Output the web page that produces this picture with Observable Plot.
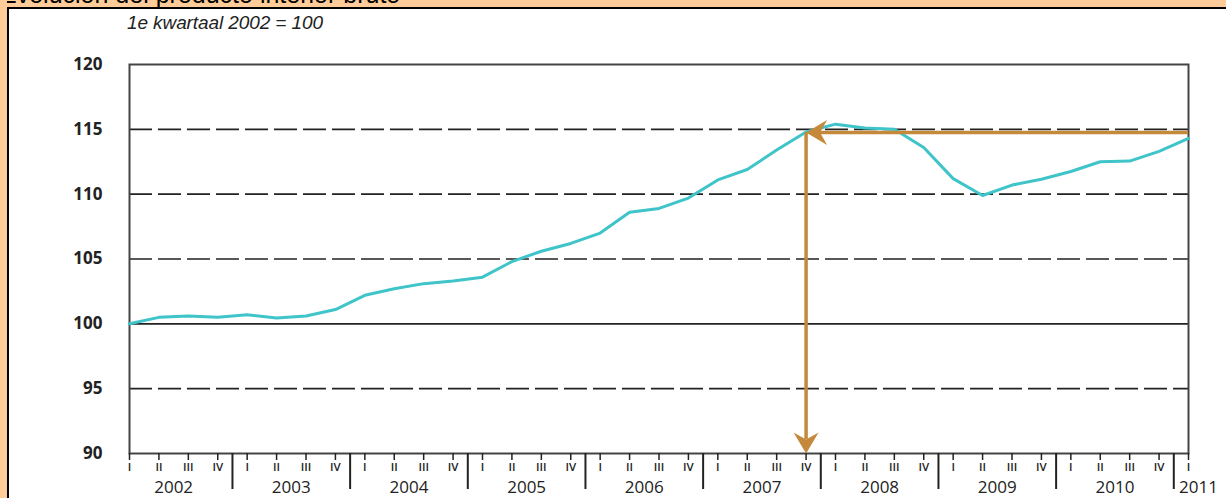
<!DOCTYPE html>
<html>
<head>
<meta charset="utf-8">
<script src="https://cdn.jsdelivr.net/npm/d3@7"></script>
<script src="https://cdn.jsdelivr.net/npm/@observablehq/plot@0.6"></script>
<style>
  html, body { margin: 0; padding: 0; width: 1226px; height: 498px; overflow: hidden; background: #fff; }
  #wrap { position: relative; width: 1226px; height: 498px; }
  #chart { position: absolute; left: 0; top: 0; }
  .orangeTop { position: absolute; left: 0; top: 0; width: 1226px; height: 7px; background: #FFCC99; z-index: 2; overflow: hidden; }
  .orangeLeft { position: absolute; left: 0; top: 0; width: 7px; height: 498px; background: #FFCC99; z-index: 2; }
  .lineTop { position: absolute; left: 7px; top: 7px; width: 1219px; height: 2px; background: #000; z-index: 3; }
  .lineLeft { position: absolute; left: 7px; top: 7px; width: 2px; height: 491px; background: #000; z-index: 3; }
  .title { position: absolute; left: 0px; top: -20px; font: 25px "Liberation Sans", Arial, sans-serif; color: #000; white-space: nowrap; }
  .subtitle { position: absolute; left: 127px; top: 12px; font: italic 19px "Liberation Sans", Arial, sans-serif; color: #222; letter-spacing: -0.1px; z-index: 3; }
</style>
</head>
<body>
<div id="wrap">
  <div class="orangeTop"><div class="title">Evolución del producto interior bruto</div></div>
  <div class="orangeLeft"></div>
  <div class="lineTop"></div>
  <div class="lineLeft"></div>
  <div class="subtitle">1e kwartaal 2002 = 100</div>
  <div id="chart"></div>
</div>
<script>
// Data
const years = [2002, 2003, 2004, 2005, 2006, 2007, 2008, 2009, 2010, 2011];
const quarterLabels = ["I", "II", "III", "IV"];
const gdp = [100, 100.5, 100.6, 100.5, 100.7, 100.45, 100.6, 101.1,
             102.2, 102.7, 103.1, 103.3, 103.6, 104.8, 105.6, 106.2,
             107.0, 108.6, 108.9, 109.7, 111.1, 111.9, 113.4, 114.8,
             115.4, 115.1, 115.0, 113.6, 111.2, 109.9, 110.7, 111.15,
             111.75, 112.5, 112.55, 113.3, 114.3];
const yTicks = [90, 95, 100, 105, 110, 115, 120];
const dashedGrid = [95, 105, 110, 115];
const solidGrid = [100];
const refIndex = 23;      // 2007 IV
const refValue = 114.75;  // peak level reference

const data = gdp.map((v, i) => ({i, v}));
const quarterTicks = d3.range(gdp.length);
const lastIndex = gdp.length - 1;
const yearSeparators = years.slice(0, -1).map((y, k) => 4 * k + 3.5);
const yearCenters = years.slice(0, -1).map((y, k) => ({x: 4 * k + 1.5, label: String(y)}));
const lastYear = [{x: lastIndex, label: String(years[years.length - 1])}];

const arrowColor = "#C4893A";
const lineColor = "#3EC4C9";

// stealth arrowhead pointing down, tip at origin
const arrowHead = {
  draw(ctx) {
    ctx.moveTo(0, 0);
    ctx.lineTo(-12.5, -21);
    ctx.lineTo(0, -14);
    ctx.lineTo(12.5, -21);
    ctx.closePath();
  }
};

const plot = Plot.plot({
  width: 1226,
  height: 498,
  marginLeft: 129,
  marginRight: 38,
  marginTop: 64,
  marginBottom: 45,
  style: {background: "transparent", fontFamily: "'Open Sans', 'Liberation Sans', sans-serif", color: "#222"},
  x: {domain: [0, lastIndex], axis: null},
  y: {domain: [90, 120], axis: null},
  marks: [
    Plot.ruleY(dashedGrid, {stroke: "#222", strokeWidth: 1.7, strokeDasharray: "23,6"}),
    Plot.ruleY(solidGrid, {stroke: "#222", strokeWidth: 1.7}),
    Plot.frame({stroke: "#444", strokeWidth: 2}),
    Plot.line(data, {x: "i", y: "v", stroke: lineColor, strokeWidth: 3, strokeLinejoin: "round"}),
    Plot.ruleY([refValue], {x1: refIndex, x2: lastIndex, stroke: arrowColor, strokeWidth: 3.5, insetLeft: 14}),
    Plot.ruleX([refIndex], {y1: refValue, y2: 90, stroke: arrowColor, strokeWidth: 3.5, insetBottom: 14}),
    Plot.dot([{x: refIndex, y: refValue}], {x: "x", y: "y", symbol: arrowHead, fill: arrowColor, stroke: "none", rotate: 90}),
    Plot.dot([{x: refIndex, y: 90}], {x: "x", y: "y", symbol: arrowHead, fill: arrowColor, stroke: "none"}),
    Plot.axisY(yTicks, {anchor: "left", tickSize: 0, tickPadding: 27, fontSize: 17, fontWeight: "bold", fill: "#222"}),
    Plot.axisX(quarterTicks, {anchor: "bottom", tickSize: 7, tickPadding: 2, fontSize: 11.5, fontWeight: "600", strokeWidth: 1.5, tickFormat: i => quarterLabels[i % 4]}),
    Plot.axisX(yearSeparators, {anchor: "bottom", tickSize: 36, strokeWidth: 2, tickFormat: () => ""}),
    Plot.text(yearCenters, {x: "x", y: () => 90, text: "label", dy: 34, fontSize: 17, fill: "#222"}),
    Plot.text(lastYear, {x: "x", y: () => 90, text: "label", dy: 34, dx: 10, fontSize: 17, fill: "#222"})
  ]
});
document.getElementById("chart").appendChild(plot);
</script>
</body>
</html>
